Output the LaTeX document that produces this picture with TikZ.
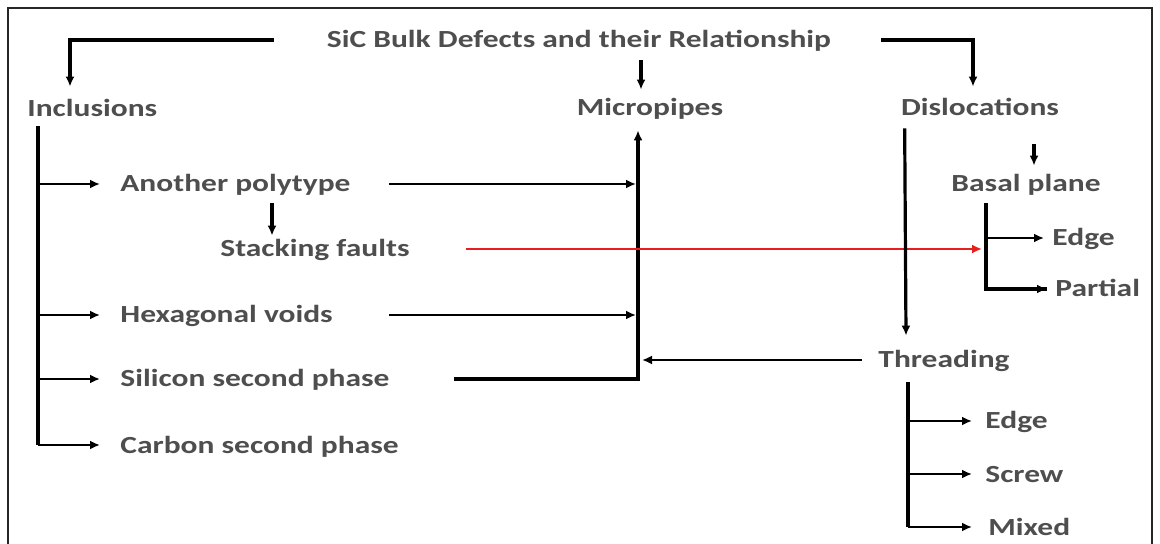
\documentclass[tikz,border=0pt]{standalone}
\usepackage{fontspec}
\setmainfont{Carlito}[FakeStretch=1.28]
\usepackage{tikz}
\definecolor{labelgray}{RGB}{78, 78, 78}
\definecolor{linkred}{RGB}{230, 30, 30}
\usetikzlibrary{
  arrows.meta,
  calc,
  positioning,
}
\tikzset{
  >={Latex[length=5pt,width=4.5pt]},
  lbl/.style={inner sep=0pt,text height=0.9em,text depth=0.1em,
    font=\fontsize{12.3}{14}\selectfont\bfseries,text=labelgray},
  conn/.style={draw,line width=1.2pt,->},
  trunk/.style={draw,line width=1.6pt},
  heavy/.style={draw,line width=2.1pt},
}

\begin{document}
\begin{tikzpicture}[x=0.5pt,y=-0.5pt]

        \useasboundingbox (0,0) rectangle (1160,544);
        \draw[line width=1pt,black!85] (8,544) -- (8,8) -- (1152,8) -- (1152,544);

        \node[lbl]               (title)  at (579,40)  {SiC Bulk Defects and their Relationship};
        \node[lbl,anchor=west]   (incl)   at (27,109)  {Inclusions};
        \node[lbl]               (micro)  at (650,108) {Micropipes};
        \node[lbl]               (disl)   at (980,108) {Dislocations};

        \node[lbl,anchor=west]   (poly)   at (120,184) {Another polytype};
        \node[lbl,anchor=west]   (stack)  at (220,249) {Stacking faults};
        \node[lbl,anchor=west]   (hexa)   at (120,315) {Hexagonal voids};
        \node[lbl,anchor=west]   (sili)   at (120,379) {Silicon second phase};
        \node[lbl,anchor=west]   (carb)   at (120,445) {Carbon second phase};

        \node[lbl]               (basal)  at (1026,184) {Basal plane};
        \node[lbl,anchor=west]   (bedge)  at (1052,238) {Edge};
        \node[lbl,anchor=west]   (bpart)  at (1055,289) {Partial};
        \node[lbl,anchor=west]   (thread) at (878,360) {Threading};
        \node[lbl,anchor=west]   (tedge)  at (985,421) {Edge};
        \node[lbl,anchor=west]   (tscrew) at (985,474) {Screw};
        \node[lbl,anchor=west]   (tmixed) at (988,527) {Mixed};

        % trunk points
        \coordinate (itop)   at ($(incl.south west)+(11,7)$);
        \coordinate (mtrunk) at ($(micro.south)+(-12,12)$);
        \coordinate (btrunk) at ($(basal.south west)+(35,9)$);
        \coordinate (ttop)   at ($(thread.south west)+(30,12)$);

        % from the title
        \draw[heavy,->] ($(title.west)+(-53,0)$) -| ($(incl.north west)+(43,-12)$);
        \draw[heavy,->] ($(title.south -| micro.north)+(-9,10)$) -- ($(micro.north)+(-9,-8)$);
        \draw[heavy,->] ($(title.east)+(50,0)$) -| ($(disl.north)+(-7,-11)$);

        % inclusions
        \draw[trunk] (itop) -- (itop |- carb.west);
        \draw[conn] (itop |- poly.west) -- ($(poly.west)+(-20,0)$);
        \draw[conn] (itop |- hexa.west) -- ($(hexa.west)+(-20,0)$);
        \draw[conn] (itop |- sili.west) -- ($(sili.west)+(-20,0)$);
        \draw[conn] (itop |- carb.west) -- ($(carb.west)+(-20,0)$);
        \draw[heavy,->] ($(poly.south west)+(152,9)$) -- ($(stack.north west)+(52,-3)$);

        % micropipes
        \draw[trunk,->] ($(sili.east)+(64,0)$) -| (mtrunk);
        \draw[conn] ($(poly.east)+(38,0)$) -- ($(mtrunk |- poly.east)+(-2,0)$);
        \draw[conn] ($(hexa.east)+(56,0)$) -- ($(mtrunk |- hexa.east)+(-2,0)$);
        \draw[conn] ($(thread.west)+(-16,0)$) -- ($(mtrunk |- thread.west)+(4,0)$);
        \draw[conn,linkred] ($(stack.east)+(56,0)$) -- ($(btrunk |- stack.east)+(-4,0)$);

        % dislocations
        \draw[trunk,->] ($(disl.south west)+(4,10)$) -- ($(thread.north west)+(28,-14)$);
        \draw[heavy,->] ($(disl.south)+(54,26)$) -- ($(basal.north)+(8,-8)$);
        \draw[heavy] (btrunk) |- ($(bpart.west)+(-8,0)$);
        \draw[conn] (btrunk |- bpart.west) -- ($(bpart.west)+(-8,0)$);
        \draw[conn] (btrunk |- bedge.west) -- ($(bedge.west)+(-8,0)$);
        \draw[trunk] (ttop) -- (ttop |- tmixed.west);
        \draw[conn] (ttop |- tedge.west) -- ($(tedge.west)+(-13,0)$);
        \draw[conn] (ttop |- tscrew.west) -- ($(tscrew.west)+(-13,0)$);
        \draw[conn] (ttop |- tmixed.west) -- ($(tmixed.west)+(-16,0)$);

    \end{tikzpicture}
\end{document}
